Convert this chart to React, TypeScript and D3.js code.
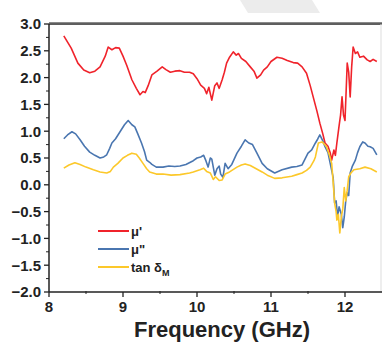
import React from 'react';
import * as d3 from 'd3';

// frequency (GHz), value pairs
const muReal: [number, number][] = [
  [8.2, 2.78], [8.3, 2.55], [8.39, 2.27], [8.47, 2.14], [8.55, 2.09], [8.62, 2.12], [8.69, 2.2],
  [8.76, 2.4], [8.8, 2.57], [8.85, 2.52], [8.9, 2.56], [8.95, 2.55], [9.0, 2.4], [9.05, 2.23],
  [9.12, 1.96], [9.18, 1.8], [9.23, 1.68], [9.27, 1.74], [9.3, 1.72], [9.34, 1.85], [9.39, 2.05],
  [9.46, 2.12], [9.53, 2.2], [9.58, 2.15], [9.64, 2.1], [9.7, 2.12], [9.77, 2.13], [9.83, 2.1],
  [9.9, 2.1], [9.95, 2.07], [10.0, 1.98], [10.05, 1.86], [10.1, 1.8], [10.13, 1.7], [10.16, 1.82],
  [10.2, 1.58], [10.24, 1.85], [10.27, 1.9], [10.3, 1.8], [10.34, 1.96], [10.37, 2.1], [10.4, 2.27],
  [10.44, 2.38], [10.49, 2.48], [10.53, 2.42], [10.56, 2.45], [10.6, 2.36], [10.66, 2.3],
  [10.72, 2.2], [10.77, 2.12], [10.81, 1.99], [10.86, 2.05], [10.9, 2.14], [10.95, 2.2], [11.0, 2.3],
  [11.08, 2.38], [11.15, 2.36], [11.22, 2.32], [11.3, 2.28], [11.36, 2.27], [11.42, 2.2],
  [11.48, 2.08], [11.53, 1.85], [11.57, 1.64], [11.62, 1.38], [11.66, 1.15], [11.7, 0.95],
  [11.73, 0.78], [11.77, 0.72], [11.8, 0.6], [11.82, 0.46], [11.85, 0.65], [11.87, 0.55],
  [11.89, 0.78], [11.92, 1.1], [11.94, 1.3], [11.96, 1.64], [11.98, 1.3], [12.0, 1.2], [12.03, 2.27],
  [12.05, 2.1], [12.07, 1.64], [12.09, 2.2], [12.11, 2.57], [12.14, 2.45], [12.17, 2.48],
  [12.2, 2.38], [12.25, 2.4], [12.3, 2.33], [12.34, 2.3], [12.38, 2.34], [12.43, 2.3],
];

const muImag: [number, number][] = [
  [8.2, 0.86], [8.25, 0.93], [8.31, 0.99], [8.36, 0.95], [8.42, 0.84], [8.48, 0.72], [8.55, 0.61],
  [8.62, 0.55], [8.69, 0.5], [8.74, 0.52], [8.78, 0.56], [8.82, 0.68], [8.85, 0.78], [8.9, 0.86],
  [8.96, 0.99], [9.02, 1.12], [9.07, 1.2], [9.12, 1.12], [9.16, 1.08], [9.2, 0.95], [9.25, 0.78],
  [9.29, 0.62], [9.32, 0.46], [9.36, 0.42], [9.39, 0.38], [9.45, 0.33], [9.54, 0.33], [9.62, 0.35],
  [9.7, 0.34], [9.77, 0.35], [9.85, 0.38], [9.95, 0.45], [10.0, 0.5], [10.05, 0.52], [10.09, 0.55],
  [10.12, 0.45], [10.15, 0.33], [10.18, 0.5], [10.2, 0.48], [10.24, 0.18], [10.27, 0.3],
  [10.3, 0.35], [10.32, 0.2], [10.35, 0.14], [10.38, 0.4], [10.42, 0.3], [10.47, 0.38],
  [10.54, 0.59], [10.6, 0.72], [10.65, 0.84], [10.7, 0.78], [10.75, 0.75], [10.81, 0.59],
  [10.88, 0.4], [10.95, 0.3], [11.05, 0.22], [11.15, 0.28], [11.28, 0.33], [11.35, 0.34],
  [11.42, 0.37], [11.5, 0.59], [11.55, 0.65], [11.6, 0.78], [11.63, 0.85], [11.66, 0.93],
  [11.7, 0.82], [11.73, 0.71], [11.77, 0.6], [11.8, 0.4], [11.84, 0.14], [11.86, -0.34],
  [11.88, -0.3], [11.9, -0.6], [11.92, -0.41], [11.95, -0.55], [11.97, -0.8], [11.99, -0.6],
  [12.01, -0.3], [12.03, -0.15], [12.05, -0.2], [12.07, 0.22], [12.1, 0.35], [12.14, 0.46],
  [12.17, 0.6], [12.2, 0.71], [12.24, 0.8], [12.27, 0.78], [12.31, 0.72], [12.34, 0.71],
  [12.38, 0.68], [12.43, 0.56],
];

const tanDeltaM: [number, number][] = [
  [8.2, 0.31], [8.27, 0.37], [8.35, 0.41], [8.42, 0.38], [8.5, 0.33], [8.6, 0.28], [8.69, 0.24],
  [8.78, 0.22], [8.83, 0.25], [8.87, 0.33], [8.93, 0.4], [9.0, 0.5], [9.06, 0.55], [9.12, 0.59],
  [9.18, 0.57], [9.22, 0.5], [9.27, 0.4], [9.32, 0.3], [9.36, 0.24], [9.45, 0.2], [9.54, 0.2],
  [9.65, 0.18], [9.77, 0.19], [9.9, 0.22], [9.95, 0.24], [10.04, 0.28], [10.09, 0.31],
  [10.13, 0.25], [10.18, 0.22], [10.22, 0.1], [10.25, 0.15], [10.3, 0.08], [10.34, 0.09],
  [10.38, 0.2], [10.44, 0.24], [10.54, 0.33], [10.6, 0.37], [10.65, 0.39], [10.72, 0.36],
  [10.8, 0.3], [10.88, 0.24], [10.95, 0.18], [11.05, 0.12], [11.15, 0.13], [11.28, 0.16],
  [11.35, 0.19], [11.42, 0.22], [11.48, 0.27], [11.53, 0.33], [11.58, 0.45], [11.6, 0.52],
  [11.64, 0.78], [11.69, 0.8], [11.72, 0.76], [11.75, 0.71], [11.79, 0.55], [11.82, 0.4],
  [11.84, 0.05], [11.86, -0.34], [11.88, -0.5], [11.89, -0.66], [11.91, -0.55], [11.93, -0.9],
  [11.95, -0.6], [11.97, -0.45], [11.99, -0.05], [12.01, -0.3], [12.03, -0.1], [12.05, 0.15],
  [12.08, 0.22], [12.12, 0.28], [12.2, 0.3], [12.27, 0.33], [12.35, 0.3], [12.43, 0.24],
];

const xTicks = [8, 9, 10, 11, 12];
const yTicks = [3, 2.5, 2, 1.5, 1, 0.5, 0, -0.5, -1, -1.5, -2];

const series = [
  { name: "μ'", data: muReal, color: '#f0232b' },
  { name: 'μ"', data: muImag, color: '#4a76b0' },
  { name: 'tan δ', sub: 'M', data: tanDeltaM, color: '#fcc82a' },
];

const W = 382;
const H = 350;
const font = "'Liberation Sans', Arial, sans-serif";

export default function App() {
  const x = d3.scaleLinear().domain([8, 12.5]).range([49, 382]);
  const y = d3.scaleLinear().domain([-2, 3]).range([292, 24]);
  const line = d3
    .line<[number, number]>()
    .x((d) => x(d[0]))
    .y((d) => y(d[1]));

  const xMinor = d3.range(8.5, 12.5, 1);
  const yMinor = d3.range(-1.75, 3, 0.5);

  return (
    <svg
      width={W}
      height={H}
      style={{ position: 'absolute', left: 0, top: 0, background: '#fff' }}
      fontFamily={font}
      fontWeight="bold"
    >
      {/* faint watermark shape at the top */}
      <polygon points="240,0 312,0 320,13 248,13" fill="#ececec" />

      {/* frame */}
      <line x1={x(8)} x2={W} y1={y(3) - 0.5} y2={y(3) - 0.5} stroke="#8a8a8a" strokeWidth={3} />
      <line x1={x(8)} x2={W} y1={y(3)} y2={y(3)} stroke="#333" strokeWidth={1.2} />
      <line x1={W - 1} x2={W - 1} y1={y(3)} y2={y(-2)} stroke="#ddd" strokeWidth={1} />

      {series.map((s) => (
        <path key={s.name} d={line(s.data) ?? ''} fill="none" stroke={s.color} strokeWidth={1.6} strokeLinejoin="round" />
      ))}

      {/* left axis */}
      <line x1={x(8)} x2={x(8)} y1={y(3)} y2={y(-2)} stroke="#222" strokeWidth={1.5} />
      {yTicks.map((t) => (
        <g key={t}>
          <line x1={x(8) - 5} x2={x(8)} y1={y(t)} y2={y(t)} stroke="#222" strokeWidth={1.3} />
          <text x={x(8) - 8} y={y(t)} dy="0.36em" textAnchor="end" fontSize={15} fill="#222">
            {d3.format('.1f')(t)}
          </text>
        </g>
      ))}
      {yMinor.map((t) => (
        <line key={t} x1={x(8) - 3} x2={x(8)} y1={y(t)} y2={y(t)} stroke="#222" strokeWidth={1} />
      ))}

      {/* bottom axis */}
      <line x1={x(8)} x2={W} y1={y(-2)} y2={y(-2)} stroke="#222" strokeWidth={1.5} />
      {xTicks.map((t) => (
        <g key={t}>
          <line x1={x(t)} x2={x(t)} y1={y(-2)} y2={y(-2) + 5} stroke="#222" strokeWidth={1.3} />
          <text x={x(t)} y={y(-2) + 20} textAnchor="middle" fontSize={15} fill="#222">
            {t}
          </text>
        </g>
      ))}
      {xMinor.map((t) => (
        <line key={t} x1={x(t)} x2={x(t)} y1={y(-2) - 1} y2={y(-2) + 2} stroke="#222" strokeWidth={1} />
      ))}

      <text x={222} y={337} textAnchor="middle" fontSize={22} fill="#222">
        Frequency (GHz)
      </text>

      {/* legend */}
      {series.map((s, i) => (
        <g key={s.name} transform={`translate(98,${231 + i * 18})`}>
          <line x1={0} x2={31} y1={0} y2={0} stroke={s.color} strokeWidth={2} />
          <text x={33} y={0} dy="0.36em" fontSize={13} fill="#222">
            {s.name}
            {s.sub && (
              <tspan fontSize={9} dy={4}>
                {s.sub}
              </tspan>
            )}
          </text>
        </g>
      ))}
    </svg>
  );
}
